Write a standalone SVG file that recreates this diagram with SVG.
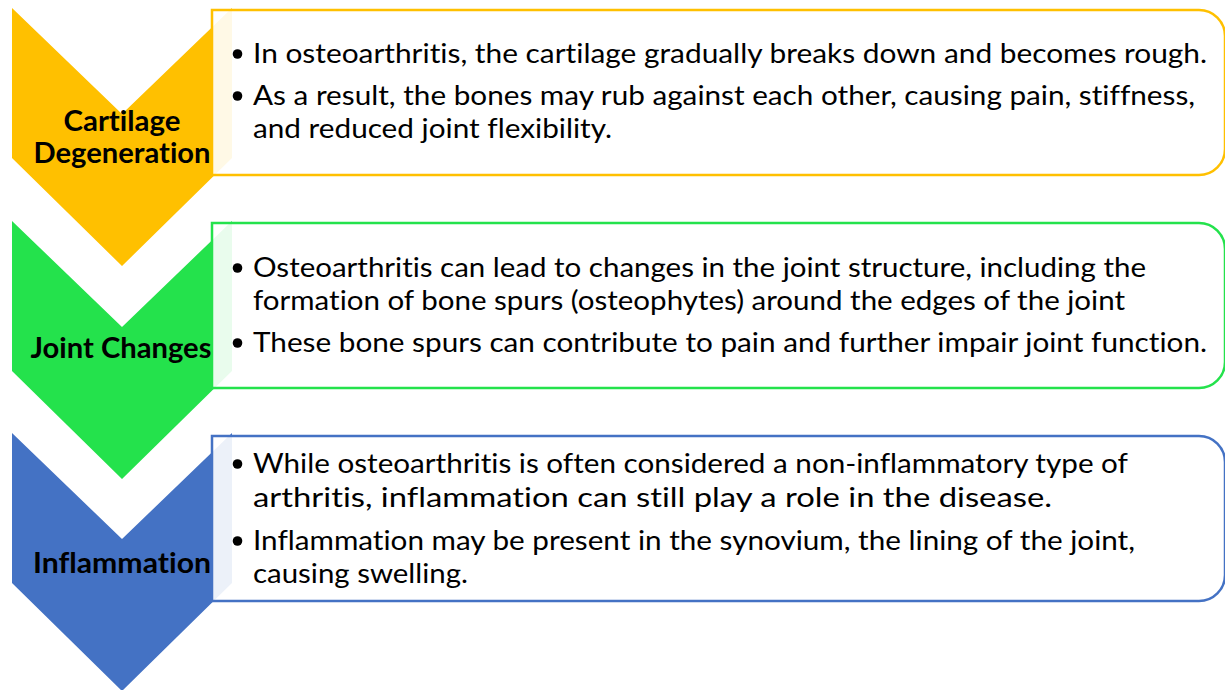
<svg xmlns="http://www.w3.org/2000/svg" width="1225" height="690" viewBox="0 0 1225 690">
  <style>
    .lbl { font-family: Lato, "Liberation Sans", Arial, sans-serif; font-weight: bold; font-size: 28px; fill: #000; text-anchor: middle; font-variant-ligatures: none; }
    .txt { font-family: Lato, "Liberation Sans", Arial, sans-serif; font-size: 27px; fill: #000; font-variant-ligatures: none; }
    .box { fill: #ffffff; fill-opacity: 0.9; stroke-width: 2.5; }
    .dot { fill: #000; }
  </style>
  <defs>
    <polygon id="chev" points="12,0 122,106 232,0 232,150 122,258 12,150"/>
    <path id="rbox" d="M212,0 H1199 A26,26 0 0 1 1225,26 V139 A26,26 0 0 1 1199,165 H212 Z"/>
  </defs>

  <g id="node-cartilage">
    <use href="#chev" y="8" fill="#FFC000"/>
    <text class="lbl" x="122" y="131" textLength="117" lengthAdjust="spacingAndGlyphs">Cartilage</text>
    <text class="lbl" x="122" y="163" textLength="177" lengthAdjust="spacingAndGlyphs">Degeneration</text>
    <use href="#rbox" y="10" class="box" stroke="#FFC000"/>
    <circle class="dot" cx="237.5" cy="54" r="4.8"/>
    <text class="txt" x="253" y="63" textLength="954" lengthAdjust="spacingAndGlyphs">In osteoarthritis, the cartilage gradually breaks down and becomes rough.</text>
    <circle class="dot" cx="237.5" cy="96" r="4.8"/>
    <text class="txt" x="253" y="105" textLength="942" lengthAdjust="spacingAndGlyphs">As a result, the bones may rub against each other, causing pain, stiffness,</text>
    <text class="txt" x="253" y="138" textLength="359" lengthAdjust="spacingAndGlyphs">and reduced joint flexibility.</text>
  </g>

  <g id="node-joint">
    <use href="#chev" y="221" fill="#24E24C"/>
    <text class="lbl" x="121" y="358" textLength="181" lengthAdjust="spacingAndGlyphs">Joint Changes</text>
    <use href="#rbox" y="223" class="box" stroke="#24E24C"/>
    <circle class="dot" cx="237.5" cy="268" r="4.8"/>
    <text class="txt" x="253" y="277" textLength="893" lengthAdjust="spacingAndGlyphs">Osteoarthritis can lead to changes in the joint structure, including the</text>
    <text class="txt" x="253" y="310" textLength="872" lengthAdjust="spacingAndGlyphs">formation of bone spurs (osteophytes) around the edges of the joint</text>
    <circle class="dot" cx="237.5" cy="343" r="4.8"/>
    <text class="txt" x="253" y="352" textLength="954" lengthAdjust="spacingAndGlyphs">These bone spurs can contribute to pain and further impair joint function.</text>
  </g>

  <g id="node-inflammation">
    <use href="#chev" y="433" fill="#4472C4"/>
    <text class="lbl" x="122" y="573" textLength="178" lengthAdjust="spacingAndGlyphs">Inflammation</text>
    <use href="#rbox" y="436" class="box" stroke="#4472C4"/>
    <circle class="dot" cx="237.5" cy="464" r="4.8"/>
    <text class="txt" x="253" y="473" textLength="875" lengthAdjust="spacingAndGlyphs">While osteoarthritis is often considered a non-inflammatory type of</text>
    <text class="txt" x="253" y="507" textLength="799" lengthAdjust="spacingAndGlyphs">arthritis, inflammation can still play a role in the disease.</text>
    <circle class="dot" cx="237.5" cy="541" r="4.8"/>
    <text class="txt" x="253" y="550" textLength="882" lengthAdjust="spacingAndGlyphs">Inflammation may be present in the synovium, the lining of the joint,</text>
    <text class="txt" x="253" y="583" textLength="215" lengthAdjust="spacingAndGlyphs">causing swelling.</text>
  </g>

  <g id="connectors"></g>
</svg>
